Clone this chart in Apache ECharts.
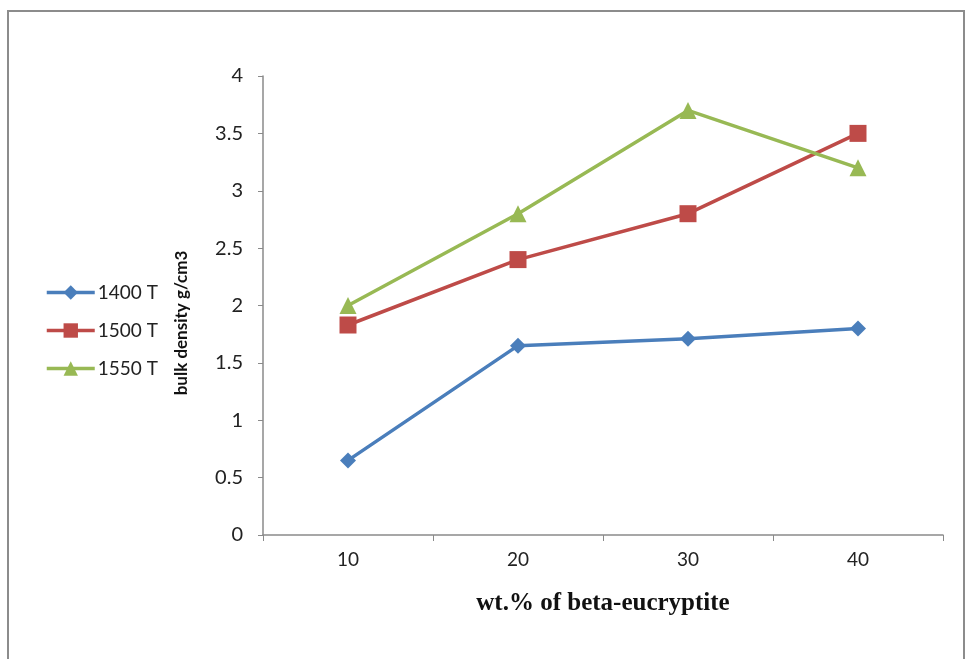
<!DOCTYPE html>
<html>
<head>
<meta charset="utf-8">
<script src="https://cdn.jsdelivr.net/npm/echarts@6/dist/echarts.min.js"></script>
<style>html,body{margin:0;padding:0;background:#fff;}#c{width:966px;height:659px;}</style>
</head>
<body>
<div id="c"></div>
<script>
const categories = ['10', '20', '30', '40'];
const s1400 = [0.65, 1.65, 1.71, 1.80];
const s1500 = [1.83, 2.40, 2.80, 3.50];
const s1550 = [2.00, 2.80, 3.70, 3.20];
const seriesNames = ['1400 T', '1500 T', '1550 T'];
const yTicks = { min: 0, max: 4, interval: 0.5 };
const yTitle = 'bulk density g/cm3';
const xTitle = 'wt.% of beta-eucryptite';

const chart = echarts.init(document.getElementById('c'), null, { renderer: 'canvas' });
const font = 'Lato, "Open Sans", sans-serif';
function mk(name, data, color, symbol, size) {
  return {
    name: name, type: 'line', data: data,
    symbol: symbol, symbolSize: size,
    lineStyle: { color: color, width: 3.5 },
    itemStyle: { color: color },
    emphasis: { disabled: true },
    animation: false
  };
}
chart.setOption({
  animation: false,
  backgroundColor: '#fff',
  graphic: [{
    type: 'rect', shape: { x: 8, y: 11, width: 956, height: 670 },
    style: { fill: 'none', stroke: '#8c8c8c', lineWidth: 2 }, silent: true, z: -1
  }, {
    type: 'text', x: 182, y: 323, rotation: Math.PI / 2,
    style: { text: yTitle, fontFamily: font, fontWeight: 'bold', fontSize: 17, fill: '#111', align: 'center', verticalAlign: 'middle' },
    silent: true
  }],
  grid: { left: 263, right: 23, top: 76, bottom: 124, containLabel: false },
  legend: {
    orient: 'vertical', left: 40, top: 278, itemGap: 19,
    itemWidth: 48, itemHeight: 18,
    data: seriesNames,
    lineStyle: { width: 3.5 },
    textStyle: { fontFamily: font, fontSize: 19, color: '#222', padding: [0, 0, 0, -2] }
  },
  xAxis: {
    type: 'category', data: categories, boundaryGap: true,
    name: xTitle, nameLocation: 'middle', nameGap: 56,
    nameTextStyle: { fontFamily: '"Liberation Serif", "Times New Roman", serif', fontWeight: 'bold', fontSize: 25, color: '#111' },
    axisLine: { lineStyle: { color: '#8a8a8a', width: 1.5 } },
    axisTick: { show: true, alignWithLabel: false, length: 6, lineStyle: { color: '#8a8a8a' } },
    axisLabel: { fontFamily: font, fontSize: 19, color: '#222', margin: 15 },
    splitLine: { show: false }
  },
  yAxis: {
    type: 'value', min: yTicks.min, max: yTicks.max, interval: yTicks.interval,
    axisLine: { show: true, lineStyle: { color: '#8a8a8a', width: 1.5 } },
    axisTick: { show: true, length: 5, lineStyle: { color: '#8a8a8a' } },
    axisLabel: { fontFamily: font, fontSize: 20, color: '#222', margin: 20 },
    splitLine: { show: false }
  },
  series: [
    mk(seriesNames[0], s1400, '#4a7ebb', 'diamond', 16),
    mk(seriesNames[1], s1500, '#be4b48', 'rect', 17),
    mk(seriesNames[2], s1550, '#98b954', 'triangle', 17)
  ]
});
</script>
</body>
</html>
